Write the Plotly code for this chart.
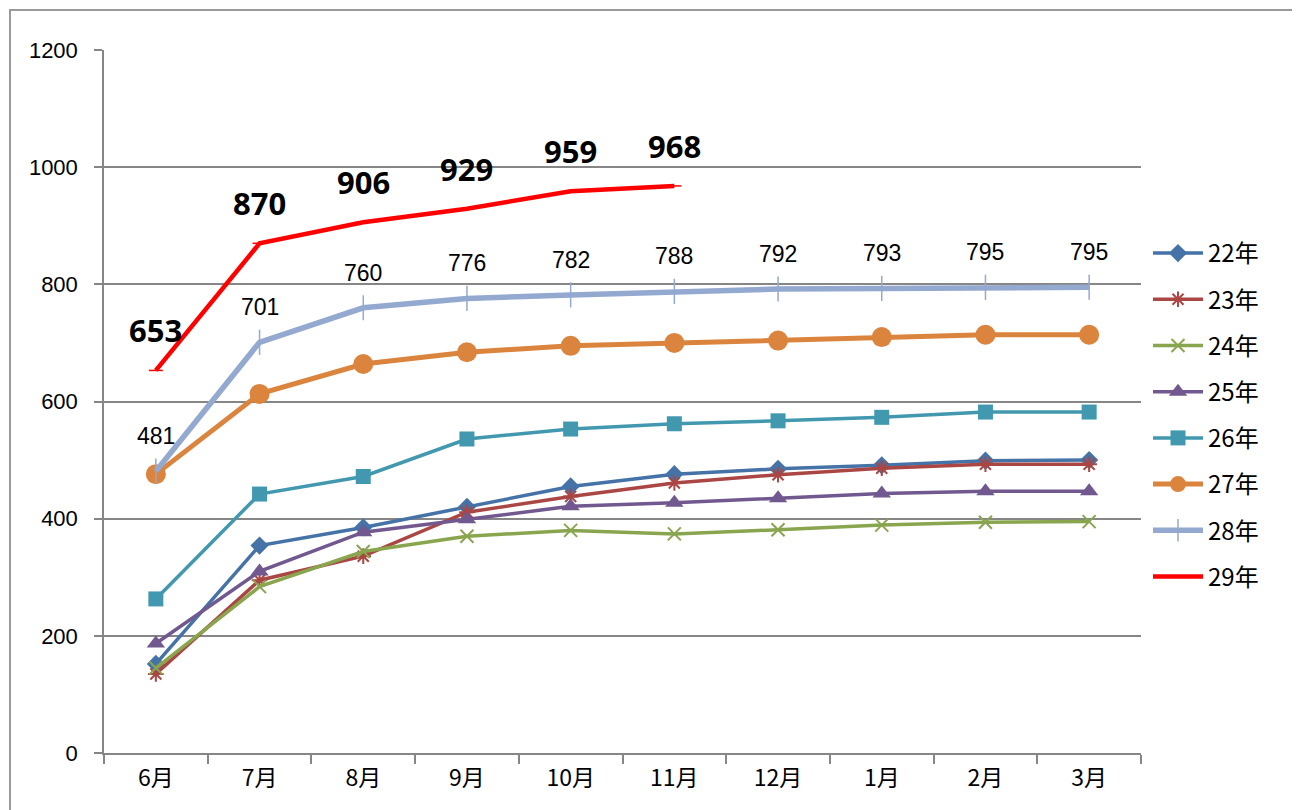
import plotly.graph_objects as go

months = ["6月", "7月", "8月", "9月", "10月", "11月", "12月", "1月", "2月", "3月"]

s22 = [152, 354, 385, 420, 455, 476, 485, 491, 499, 500]
s23 = [135, 295, 336, 411, 438, 461, 475, 486, 493, 493]
s24 = [145, 284, 344, 370, 380, 374, 381, 389, 394, 395]
s25 = [187, 310, 377, 399, 421, 427, 435, 443, 447, 447]
s26 = [263, 442, 472, 536, 553, 562, 567, 573, 582, 582]
s27 = [476, 613, 664, 684, 695, 700, 704, 710, 714, 714]
s28 = [481, 701, 760, 776, 782, 788, 792, 793, 795, 795]
s29 = [653, 870, 906, 929, 959, 968]

series = [
    ("22年", s22, "#4572A7", 3.5, "diamond", 14, 0),
    ("23年", s23, "#AA4643", 3.5, "asterisk-open", 13, 2),
    ("24年", s24, "#89A54E", 3.5, "x-thin-open", 13, 2),
    ("25年", s25, "#71588F", 3.5, "triangle-up", 16, 0),
    ("26年", s26, "#4198AF", 3.5, "square", 15, 0),
    ("27年", s27, "#DB843D", 5, "circle", 20, 0),
    ("28年", s28, "#93A9CF", 5.5, "line-ns-open", 18, 1.5),
    ("29年", s29, "#FF0000", 4.5, "line-ew-open", 10, 1.5),
]

fig = go.Figure()
for name, vals, color, lw, sym, msize, mlw in series:
    fig.add_trace(go.Scatter(
        x=months[:len(vals)], y=vals, name=name, mode="lines+markers",
        line=dict(color=color, width=lw),
        marker=dict(symbol=sym, size=msize, color=color,
                    line=dict(color=color, width=mlw)),
        legendgroup=name,
    ))

annotations = []
for m, v in zip(months, s28):
    annotations.append(dict(x=m, y=v, xref="x", yref="y", text=str(v), showarrow=False,
                            yshift=35, font=dict(family="Liberation Sans, Arial", size=23, color="#000")))
for m, v in zip(months, s29):
    annotations.append(dict(x=m, y=v, xref="x", yref="y", text="<b>%d</b>" % v, showarrow=False,
                            yshift=40, font=dict(family="Noto Sans, Liberation Sans", size=31, color="#000")))

# page body has an 8px margin
OFF = 8
W, H = 1300 - OFF, 810 - OFF
L, R, T, B = 104 - OFF, 1141 - OFF, 50 - OFF, 753 - OFF
pw, ph = R - L, B - T

def px(xp):
    return (xp - OFF - L) / pw

def py(yp):
    return (B - (yp - OFF)) / ph

fig.update_layout(
    width=W, height=H,
    margin=dict(l=L, r=W - R, t=T, b=H - B),
    plot_bgcolor="white", paper_bgcolor="white",
    showlegend=True,
    legend=dict(x=px(1148), y=py(231), xanchor="left", yanchor="top",
                font=dict(family="Noto Sans CJK JP", size=24, color="#000"),
                tracegroupgap=12, itemwidth=50, bgcolor="rgba(0,0,0,0)"),
    annotations=annotations,
    shapes=[dict(type="rect", xref="paper", yref="paper",
                 x0=px(10), x1=px(1295), y0=py(830), y1=py(10),
                 line=dict(color="#9a9a9a", width=2), layer="below")],
)
fig.update_xaxes(
    type="category", range=[-0.5, 9.5], tickson="boundaries",
    ticks="outside", ticklen=9, tickcolor="#868686", tickwidth=1.5,
    showline=True, linecolor="#868686", linewidth=1.5, showgrid=False,
    tickfont=dict(family="Noto Sans CJK JP", size=23, color="#000"),
    ticklabelstandoff=4,
)
fig.update_yaxes(
    range=[0, 1200], dtick=200, tick0=0,
    ticks="outside", ticklen=8, tickcolor="#868686", tickwidth=1.5,
    showline=True, linecolor="#868686", linewidth=1.5,
    showgrid=True, gridcolor="#868686", gridwidth=1.5, zeroline=False,
    tickfont=dict(family="Liberation Sans, Arial", size=22, color="#000"),
    ticklabelstandoff=12,
)

fig.write_html("out.html")
